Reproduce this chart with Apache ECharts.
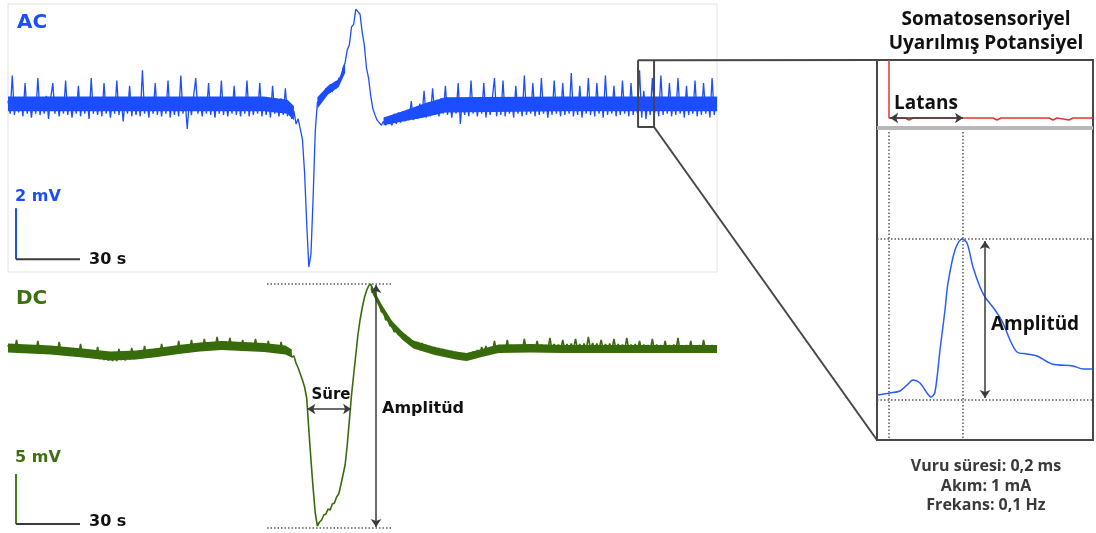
<!DOCTYPE html>
<html><head><meta charset="utf-8">
<script src="https://cdn.jsdelivr.net/npm/echarts@6/dist/echarts.min.js"></script>
<style>html,body{margin:0;padding:0;background:#fff}#c{width:1096px;height:533px}</style>
</head><body><div id="c"></div>
<script>
// ---------------- DATA ----------------
// sampling interval of the slow traces, seconds
const SAMPLE_S = 1;
// AC trace, mV, one value per second
const acMv = [
0.2,-0.3,1.2,-0.35,0.3,-0.25,0.35,-0.4,0.9,-0.3,
0.25,-0.45,0.3,-0.3,1.1,-0.35,0.2,-0.3,0.4,-0.5,
0.3,0.9,-0.3,0.25,-0.4,0.35,-0.3,1.0,-0.35,0.3,
-0.45,0.2,-0.3,0.8,-0.4,0.3,-0.3,0.35,-0.5,1.1,
-0.3,0.25,-0.35,0.3,-0.4,0.9,-0.3,0.3,-0.45,0.25,
-0.3,1.0,-0.35,0.3,-0.6,0.35,-0.3,0.8,-0.4,0.3,
-0.35,0.25,-0.4,1.4,-0.3,0.35,-0.45,0.3,-0.3,0.9,
-0.35,0.3,-0.4,0.35,-0.3,1.0,-0.45,0.3,-0.35,0.25,
-0.4,1.2,-0.3,0.3,-0.9,0.2,-0.35,0.4,1.1,-0.3,
0.35,-0.4,0.3,-0.3,0.9,-0.35,0.3,-0.45,0.35,-0.3,
1.0,-0.35,0.3,-0.4,0.25,-0.3,0.8,-0.35,0.3,-0.4,
0.35,-0.3,1.0,-0.4,0.3,-0.35,0.25,-0.3,0.9,-0.4,
0.3,-0.35,0.3,-0.45,0.8,-0.3,0.25,-0.4,0.3,-0.35,
0.7,-0.4,0.0,-0.5,-0.2,-0.7,-0.5,-0.9,-1.3,-2.6,
-4.6,-6.3,-5.8,-3.6,-1.0,0.15,0.2,0.5,0.35,0.7,
0.5,0.85,0.55,0.95,0.7,1.1,1.05,1.5,1.7,2.2,
2.4,3.1,3.2,3.8,3.7,3.6,2.9,2.4,1.5,1.1,
0.4,-0.1,-0.35,-0.55,-0.65,-0.75,-0.6,-0.75,-0.55,-0.65,
-0.75,-0.3,-0.7,-0.25,-0.65,-0.2,-0.6,-0.15,-0.55,0.2,
-0.55,-0.05,-0.5,0.1,-0.45,0.6,-0.45,0.15,-0.4,0.7,
-0.35,0.25,-0.4,0.3,-0.3,0.8,-0.35,0.3,-0.45,0.25,
-0.3,0.9,-0.7,0.3,-0.35,0.25,-0.4,1.0,-0.3,0.3,
-0.4,0.35,-0.3,0.9,-0.45,0.3,-0.35,0.3,1.1,-0.4,
0.3,-0.35,1.0,-0.4,0.3,-0.3,0.35,-0.45,0.8,-0.3,
0.3,-0.4,1.2,-0.35,0.25,-0.3,0.9,-0.4,0.3,-0.35,
1.1,-0.3,0.35,-0.45,0.3,-0.35,1.0,-0.3,0.25,-0.4,
0.9,-0.35,0.3,-0.3,1.3,-0.4,0.3,-0.35,0.8,-0.45,
0.3,-0.3,1.1,-0.35,0.35,-0.4,0.9,-0.3,0.3,-0.45,
1.2,-0.35,0.3,-0.3,0.8,-0.4,0.35,-0.35,1.0,-0.3,
0.3,-0.4,0.9,-0.35,0.3,-0.3,1.4,-0.45,0.6,-0.5,
0.3,-0.35,1.1,-0.3,0.3,-0.4,1.2,-0.35,0.35,-0.3,
0.9,-0.4,0.3,-0.35,1.1,-0.3,0.3,-0.45,0.8,-0.35,
0.3,-0.3,1.0,-0.4,0.35,-0.35,0.9,-0.3,0.3,-0.45,
1.1,-0.35,0.3
];
// AC solid noise core: [s, low mV, high mV]
const acCoreA = [[0,-0.2,0.38],[60,-0.2,0.38],[120,-0.2,0.38],[131,-0.3,0.25],[134,-0.55,0.0]];
const acCoreB = [[145,-0.1,0.35],[150,0.45,0.8],[155,0.75,1.05],[158,1.3,1.7]];
const acCoreC = [[176,-0.75,-0.45],[185,-0.6,-0.2],[195,-0.45,0.1],[205,-0.25,0.35],[260,-0.2,0.38],[332.3,-0.2,0.38]];
// DC trace, mV, one value per second
const dcMv = [
0.5,-0.1,0.55,-0.15,1.0,-0.1,0.5,-0.2,0.45,-0.15,
0.45,-0.25,0.4,-0.2,0.9,-0.25,0.4,-0.3,0.35,-0.2,
0.35,-0.35,0.3,-0.35,0.8,-0.4,0.25,-0.45,0.2,-0.5,
0.15,-0.55,0.1,-0.6,0.6,-0.65,0.0,-0.7,-0.05,-0.75,
-0.1,-0.8,0.3,-0.9,-0.2,-1.0,-0.25,-1.05,-0.3,-1.1,
-0.35,-1.1,0.1,-1.0,-0.3,-1.05,-0.2,-0.95,0.2,-0.9,
-0.2,-0.85,-0.15,-0.8,0.4,-0.75,-0.05,-0.7,0.0,-0.6,
0.05,-0.55,0.6,-0.5,0.15,-0.45,0.2,-0.4,0.3,-0.35,
0.9,-0.3,0.4,-0.25,0.45,-0.15,1.0,-0.1,0.55,0.0,
0.65,0.0,1.1,0.05,0.7,0.1,0.75,0.1,1.3,0.15,
0.8,0.1,0.85,0.15,1.2,0.1,0.8,0.05,0.75,0.0,
1.0,0.0,0.7,-0.05,0.7,0.0,1.1,-0.05,0.65,-0.1,
0.6,-0.1,0.9,-0.1,0.55,-0.15,0.5,-0.2,0.8,-0.25,
0.3,-0.35,-0.1,-0.7,-0.6,-1.3,-1.8,-2.4,-3.0,-3.7,
-4.8,-8.0,-11.0,-13.8,-16.3,-17.6,-17.2,-17.0,-16.5,-16.4,
-15.9,-16.0,-15.4,-15.3,-14.7,-14.4,-13.5,-12.5,-11.5,-9.5,
-7.0,-4.5,-2.5,-0.5,1.5,3.0,4.2,5.2,5.9,6.4,
6.6,6.1,5.8,4.9,4.7,3.8,3.9,3.0,3.1,2.4,
2.5,1.8,2.1,1.5,1.8,1.1,1.5,0.8,1.2,0.4,
0.9,0.2,0.8,0.0,0.7,-0.1,0.5,-0.2,0.4,-0.35,
0.3,-0.45,0.2,-0.55,0.1,-0.6,-0.05,-0.7,-0.1,-0.8,
-0.2,-0.9,-0.3,-1.0,-0.35,-0.95,-0.3,-0.9,-0.15,-0.8,
0.0,-0.65,0.3,-0.5,0.4,-0.3,0.3,-0.25,0.9,-0.2,
0.4,-0.15,0.45,-0.15,1.0,-0.1,0.5,-0.15,0.45,-0.1,
0.5,-0.1,1.1,-0.05,0.5,-0.1,0.55,-0.05,0.9,-0.1,
0.55,-0.05,0.5,0.0,1.2,-0.05,0.6,0.0,0.55,-0.05,
1.0,0.0,0.6,-0.05,0.65,0.05,1.1,0.0,0.6,0.05,
0.65,0.0,1.3,0.05,0.7,0.0,0.65,0.05,1.0,0.0,
0.6,0.05,0.65,-0.05,1.1,0.0,0.6,0.0,0.55,-0.05,
1.2,0.0,0.55,-0.05,0.6,0.0,0.9,-0.05,0.55,-0.1,
0.5,-0.05,1.1,-0.1,0.55,-0.05,0.5,-0.1,0.9,-0.1,
0.5,-0.15,0.55,-0.1,1.2,-0.1,0.45,-0.15,0.5,-0.1,
0.9,-0.15,0.45,-0.1,0.5,-0.15,1.0,-0.1,0.45,-0.15,
0.5,-0.1,0.45
];
// DC solid noise core: [s, low mV, high mV]
const dcCoreA = [[0,-0.25,0.65],[20,-0.45,0.45],[35,-0.75,0.15],[48,-1.05,-0.15],[60,-0.95,-0.05],[70,-0.7,0.2],[80,-0.4,0.5],[90,-0.15,0.75],[100,0.0,0.9],[110,-0.1,0.8],[120,-0.2,0.7],[130,-0.45,0.45],[133,-0.75,0.05]];
const dcCoreB = [[170,6.0,6.6],[175,3.8,4.6],[180,2.1,2.9],[185,1.0,1.8],[190,0.15,0.95],[200,-0.5,0.3],[210,-0.95,-0.15],[215,-1.1,-0.3],[222,-0.7,0.1],[230,-0.3,0.55],[245,-0.25,0.6],[260,-0.3,0.5],[332.3,-0.3,0.5]];
// Somatosensory evoked potential (ms, µV)
const sepMs = [-3,0.25,2.75,4.5,6,7.75,9.5,10.5,11.5,12.75,14,14.75,16.5,18.25,19.5,21,22.75,24,26.5,28.5,30.25,32,34.5,37,40.75,46,48.5,51];
const sepUv = [0.125,0.175,0.225,0.375,0.5,0.425,0.175,0.075,0.2,1.25,2.25,2.925,3.75,4.025,3.925,3.325,2.825,2.575,2.25,1.925,1.5,1.2,1.15,1.1,0.9,0.85,0.775,0.775];
// stimulus channel (red) and reference channel (gray)
const stimMs = [0,0,4,5,6,26,27,28,40,41,42,45,46,51];
const stimUv = [8.5,7.05,7.05,7.0,7.05,7.05,7.0,7.05,7.05,7.0,7.05,7.0,7.05,7.05];
const refMs = [-3,51];
const refUv = [6.8,6.8];
// annotations
const zoomBoxS = [295.3, 302.8];       // AC window enlarged at right (s)
const zoomBoxMv = [1.8, -0.82];
const acScaleOrigin = [3.75, -6.0];   const acScaleMv = 2;
const dcScaleOrigin = [3.75, -17.4];  const dcScaleMv = 5;
const scaleSec = 30;
const dcPeakMv = 6.6, dcTroughMv = -17.8, dcGuideS = [121.4, 179.5], dcAmpS = 172.5;
const dcDurMv = -5.9, dcDurS = [140.3, 160.8];
const latencyMs = [0, 18.5], latencyLevel = 7.05;
const sepPeakUv = 4.025, sepBaseUv = 0, sepAmpMs = 24;
const sepRange = {xMin: -3, xMax: 51, yMin: -1, yMax: 8.5};

// ---------------- CHART ----------------
const BLUE = '#1c4dff', GREEN = '#386b0b', DARK = '#3a3a3a', DOT = '#5a5a5a';
const chart = echarts.init(document.getElementById('c'));
const pairs = (xs, ys) => xs.map((x, i) => [x, ys[i]]);
const sampled = arr => arr.map((v, i) => [i * SAMPLE_S, v]);
const dotted = {color: DOT, type: [1.5, 2], width: 1.5};
const arrowLine = (a, b) => [
  {coord: a, symbol: 'arrow', symbolSize: 8, lineStyle: {color: DARK, type: 'solid', width: 1.5}},
  {coord: b, symbol: 'arrow', symbolSize: 8}
];
const dotLine = (a, b) => [{coord: a, symbol: 'none', lineStyle: dotted}, {coord: b, symbol: 'none'}];
const base = {type: 'line', symbol: 'none', animation: false, silent: true};
// filled noise core drawn through the axis scales
const band = (axis, segments, color) => ({
  type: 'custom', coordinateSystem: 'cartesian2d', xAxisIndex: axis, yAxisIndex: axis,
  silent: true, animation: false, z: 1, data: segments.map((s, i) => [i, 0]),
  renderItem: (params, api) => {
    const seg = segments[params.dataIndex];
    const top = seg.map(p => api.coord([p[0], p[2]]));
    const bot = seg.slice().reverse().map(p => api.coord([p[0], p[1]]));
    return {type: 'polygon', shape: {points: top.concat(bot)}, style: {fill: color}};
  }
});

const option = {
  animation: false,
  backgroundColor: '#fff',
  grid: [
    {left: 8, top: 4, width: 709, height: 268, show: true, borderColor: '#e2e2e2', borderWidth: 1, backgroundColor: 'transparent'},
    {left: 8, top: 280, width: 709, height: 250, show: false},
    {left: 877, top: 60, width: 216, height: 380, show: true, borderColor: '#474747', borderWidth: 2, backgroundColor: 'transparent'}
  ],
  xAxis: [
    {type: 'value', gridIndex: 0, min: 0, max: 332.3, show: false},
    {type: 'value', gridIndex: 1, min: 0, max: 332.3, show: false},
    {type: 'value', gridIndex: 2, min: sepRange.xMin, max: sepRange.xMax, show: false}
  ],
  yAxis: [
    {type: 'value', gridIndex: 0, min: -6.5, max: 4.0, show: false},
    {type: 'value', gridIndex: 1, min: -18, max: 7, show: false},
    {type: 'value', gridIndex: 2, min: sepRange.yMin, max: sepRange.yMax, show: false}
  ],
  series: [
    band(0, [acCoreA, acCoreB, acCoreC], BLUE),
    Object.assign({}, base, {xAxisIndex: 0, yAxisIndex: 0, z: 2, data: sampled(acMv), lineStyle: {color: BLUE, width: 1.3}}),
    Object.assign({}, base, {xAxisIndex: 0, yAxisIndex: 0, data: [[acScaleOrigin[0], acScaleOrigin[1] + acScaleMv], acScaleOrigin], lineStyle: {color: BLUE, width: 2}}),
    Object.assign({}, base, {xAxisIndex: 0, yAxisIndex: 0, data: [acScaleOrigin, [acScaleOrigin[0] + scaleSec, acScaleOrigin[1]]], lineStyle: {color: DARK, width: 2}}),
    Object.assign({}, base, {xAxisIndex: 0, yAxisIndex: 0, z: 5,
      data: [[zoomBoxS[0], zoomBoxMv[0]], [zoomBoxS[1], zoomBoxMv[0]], [zoomBoxS[1], zoomBoxMv[1]], [zoomBoxS[0], zoomBoxMv[1]], [zoomBoxS[0], zoomBoxMv[0]]],
      lineStyle: {color: '#474747', width: 2}}),
    band(1, [dcCoreA, dcCoreB], GREEN),
    Object.assign({}, base, {xAxisIndex: 1, yAxisIndex: 1, data: sampled(dcMv), lineStyle: {color: GREEN, width: 1.6}, z: 2,
      markLine: {silent: true, animation: false, label: {show: false}, data: [
        dotLine([dcGuideS[0], dcPeakMv], [dcGuideS[1], dcPeakMv]),
        dotLine([dcGuideS[0], dcTroughMv], [dcGuideS[1], dcTroughMv]),
        arrowLine([dcAmpS, dcTroughMv + 0.1], [dcAmpS, dcPeakMv - 0.1]),
        arrowLine([dcDurS[0], dcDurMv], [dcDurS[1], dcDurMv])
      ]}}),
    Object.assign({}, base, {xAxisIndex: 1, yAxisIndex: 1, data: [[dcScaleOrigin[0], dcScaleOrigin[1] + dcScaleMv], dcScaleOrigin], lineStyle: {color: '#44801a', width: 2}}),
    Object.assign({}, base, {xAxisIndex: 1, yAxisIndex: 1, data: [dcScaleOrigin, [dcScaleOrigin[0] + scaleSec, dcScaleOrigin[1]]], lineStyle: {color: DARK, width: 2}}),
    Object.assign({}, base, {xAxisIndex: 2, yAxisIndex: 2, data: pairs(refMs, refUv), lineStyle: {color: '#b8b8b8', width: 4}}),
    Object.assign({}, base, {xAxisIndex: 2, yAxisIndex: 2, data: pairs(stimMs, stimUv), lineStyle: {color: '#e8322e', width: 1.5}}),
    Object.assign({}, base, {xAxisIndex: 2, yAxisIndex: 2, data: pairs(sepMs, sepUv), smooth: 0.3, lineStyle: {color: '#2a5cff', width: 1.5},
      markLine: {silent: true, animation: false, label: {show: false}, data: [
        dotLine([latencyMs[0], refUv[0] - 0.1], [latencyMs[0], sepRange.yMin]),
        dotLine([latencyMs[1], refUv[0] - 0.1], [latencyMs[1], sepRange.yMin]),
        dotLine([sepRange.xMin, sepPeakUv], [sepRange.xMax, sepPeakUv]),
        dotLine([sepRange.xMin, sepBaseUv], [sepRange.xMax, sepBaseUv]),
        arrowLine([latencyMs[0] + 0.3, latencyLevel], [latencyMs[1], latencyLevel]),
        arrowLine([sepAmpMs, sepBaseUv + 0.05], [sepAmpMs, sepPeakUv - 0.05])
      ]}})
  ]
};
chart.setOption(option);

// connectors from the AC window to the enlarged panel (computed from data coordinates)
const boxTR = chart.convertToPixel({gridIndex: 0}, [zoomBoxS[1], zoomBoxMv[0]]);
const boxBR = chart.convertToPixel({gridIndex: 0}, [zoomBoxS[1], zoomBoxMv[1]]);
const panTL = chart.convertToPixel({gridIndex: 2}, [sepRange.xMin, sepRange.yMax]);
const panBL = chart.convertToPixel({gridIndex: 2}, [sepRange.xMin, sepRange.yMin]);

const txt = (text, x, y, opts) => ({type: 'text', silent: true, z: 50, style: Object.assign({
  text, x, y, fill: '#111', fontSize: 16, fontWeight: 'bold', fontFamily: 'DejaVu Sans', align: 'left', verticalAlign: 'middle'}, opts || {})});
const SANS2 = 'Open Sans';
chart.setOption({graphic: [
  {type: 'line', silent: true, z: 40, shape: {x1: boxTR[0], y1: boxTR[1], x2: panTL[0], y2: panTL[1]}, style: {stroke: '#474747', lineWidth: 2}},
  {type: 'line', silent: true, z: 40, shape: {x1: boxBR[0], y1: boxBR[1], x2: panBL[0], y2: panBL[1]}, style: {stroke: '#474747', lineWidth: 2}},
  txt('AC', 17, 23, {fill: BLUE, fontSize: 20}),
  txt('2 mV', 15, 197, {fill: BLUE, fontSize: 16}),
  txt('30 s', 89, 260, {fontSize: 16}),
  txt('DC', 16, 299, {fill: '#3c7010', fontSize: 20}),
  txt('5 mV', 15, 458, {fill: '#3c7010', fontSize: 16}),
  txt('30 s', 89, 522, {fontSize: 16}),
  txt('Süre', 331, 395, {fontSize: 15, align: 'center'}),
  txt('Amplitüd', 382, 409, {fontSize: 16}),
  txt('Somatosensoriyel', 986, 20, {fontFamily: SANS2, fontSize: 19, align: 'center'}),
  txt('Uyarılmış Potansiyel', 986, 44, {fontFamily: SANS2, fontSize: 19, align: 'center'}),
  txt('Latans', 894, 104, {fontFamily: SANS2, fontSize: 19}),
  txt('Amplitüd', 991, 325, {fontFamily: SANS2, fontSize: 19}),
  txt('Vuru süresi: 0,2 ms', 986, 466, {fontFamily: SANS2, fontSize: 16, fill: '#3a3a3a', align: 'center'}),
  txt('Akım: 1 mA', 986, 486, {fontFamily: SANS2, fontSize: 16, fill: '#3a3a3a', align: 'center'}),
  txt('Frekans: 0,1 Hz', 986, 505, {fontFamily: SANS2, fontSize: 16, fill: '#3a3a3a', align: 'center'})
]});
</script></body></html>
